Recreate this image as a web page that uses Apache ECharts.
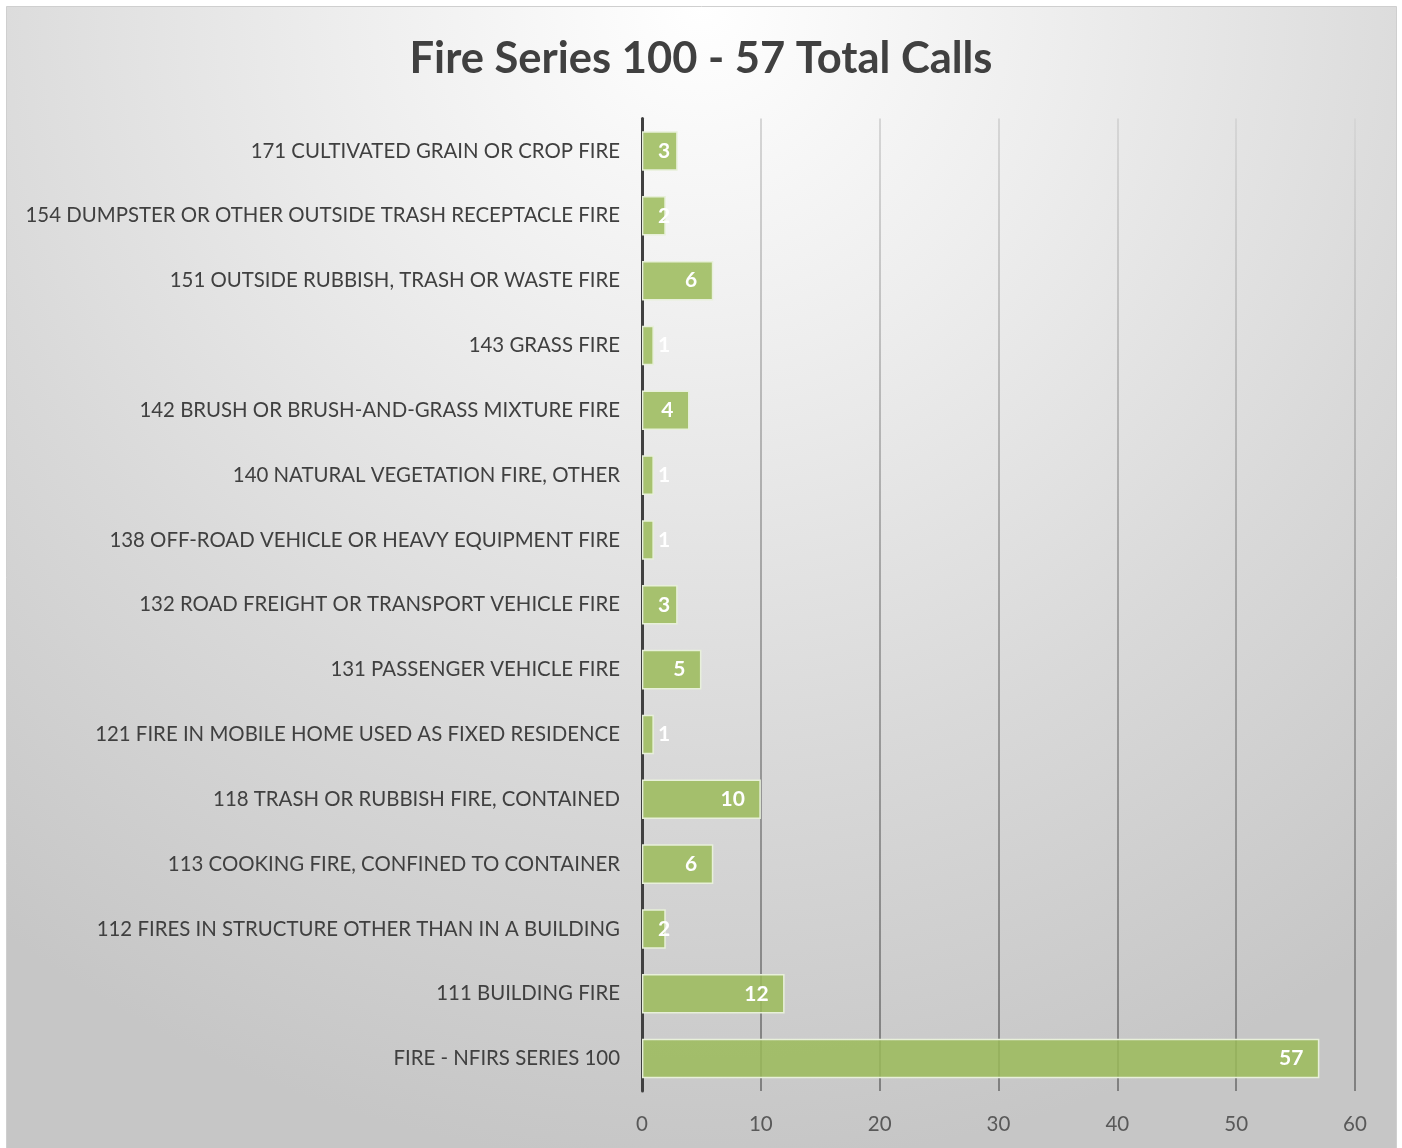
<!DOCTYPE html>
<html>
<head>
<meta charset="utf-8">
<script src="https://cdn.jsdelivr.net/npm/echarts@6/dist/echarts.min.js"></script>
<style>
  html, body { margin: 0; padding: 0; background: #ffffff; }
</style>
</head>
<body>
<div id="main" style="width: 1402px;height: 1148px"></div>

<script type="text/javascript">
    // categories, bottom to top (as ECharts draws a category y axis)
    var categories = [
        'FIRE - NFIRS SERIES 100',
        '111 BUILDING FIRE',
        '112 FIRES IN STRUCTURE OTHER THAN IN A BUILDING',
        '113 COOKING FIRE, CONFINED TO CONTAINER',
        '118 TRASH OR RUBBISH FIRE, CONTAINED',
        '121 FIRE IN MOBILE HOME USED AS FIXED RESIDENCE',
        '131 PASSENGER VEHICLE FIRE',
        '132 ROAD FREIGHT OR TRANSPORT VEHICLE FIRE',
        '138 OFF-ROAD VEHICLE OR HEAVY EQUIPMENT FIRE',
        '140 NATURAL VEGETATION FIRE, OTHER',
        '142 BRUSH OR BRUSH-AND-GRASS MIXTURE FIRE',
        '143 GRASS FIRE',
        '151 OUTSIDE RUBBISH, TRASH OR WASTE FIRE',
        '154 DUMPSTER OR OTHER OUTSIDE TRASH RECEPTACLE FIRE',
        '171 CULTIVATED GRAIN OR CROP FIRE'
    ];
    var calls = [57, 12, 2, 6, 10, 1, 5, 3, 1, 1, 4, 1, 6, 2, 3];
    var xTicks = [0, 10, 20, 30, 40, 50, 60];

    var fontFamily = 'Lato, "Open Sans", sans-serif';

    // short bars: Excel keeps the label near the bar base instead of the end
    var barData = calls.map(function (v) {
        if (v <= 3) {
            return { value: v, label: { position: 'insideLeft', distance: 16 } };
        }
        return v;
    });

    var myChart = echarts.init(document.getElementById('main'));

    var option = {
        backgroundColor: '#ffffff',
        animation: false,
        graphic: [{
            type: 'rect',
            z: -10,
            silent: true,
            shape: { x: 6.5, y: 6.5, width: 1390, height: 1160 },
            style: {
                fill: {
                    type: 'radial', x: 0.5, y: 0, r: 1,
                    colorStops: [
                        { offset: 0, color: '#ffffff' },
                        { offset: 0.3, color: '#eeeeee' },
                        { offset: 0.65, color: '#d9d9d9' },
                        { offset: 1, color: '#c6c6c6' }
                    ]
                },
                stroke: '#cfcfcf',
                lineWidth: 1
            }
        }],
        title: {
            text: 'Fire Series 100 - 57 Total Calls',
            left: 'center',
            top: 32,
            textStyle: {
                fontFamily: fontFamily,
                fontSize: 43.5,
                fontWeight: 'bold',
                color: '#404040'
            }
        },
        grid: {
            left: 642,
            right: 47,
            top: 118.6,
            bottom: 57,
            containLabel: false
        },
        xAxis: {
            type: 'value',
            min: xTicks[0],
            max: xTicks[xTicks.length - 1],
            interval: 10,
            axisLine: { show: false },
            axisTick: { show: false },
            axisLabel: {
                margin: 23,
                fontFamily: fontFamily,
                fontSize: 20.5,
                color: '#595959'
            },
            splitLine: {
                show: true,
                lineStyle: {
                    width: 2,
                    color: {
                        type: 'linear', x: 0, y: 118, x2: 0, y2: 1090, global: true,
                        colorStops: [
                            { offset: 0, color: '#d6d6d6' },
                            { offset: 0.5, color: '#a2a2a2' },
                            { offset: 1, color: '#808080' }
                        ]
                    }
                }
            }
        },
        yAxis: {
            type: 'category',
            data: categories,
            axisLine: { show: true, lineStyle: { color: '#404040', width: 3 } },
            axisTick: { show: false },
            axisLabel: {
                margin: 22,
                fontFamily: fontFamily,
                fontSize: 20.4,
                color: '#404040'
            }
        },
        series: [{
            name: 'Calls',
            type: 'bar',
            data: barData,
            barCategoryGap: '39%',
            itemStyle: {
                color: 'rgba(155,187,89,0.85)',
                borderColor: '#e8f0da',
                borderWidth: 1.5
            },
            label: {
                show: true,
                position: 'insideRight',
                distance: 16,
                fontFamily: fontFamily,
                fontSize: 21,
                fontWeight: 'bold',
                color: '#ffffff'
            }
        }]
    };

    myChart.setOption(option);
</script>
</body>
</html>
